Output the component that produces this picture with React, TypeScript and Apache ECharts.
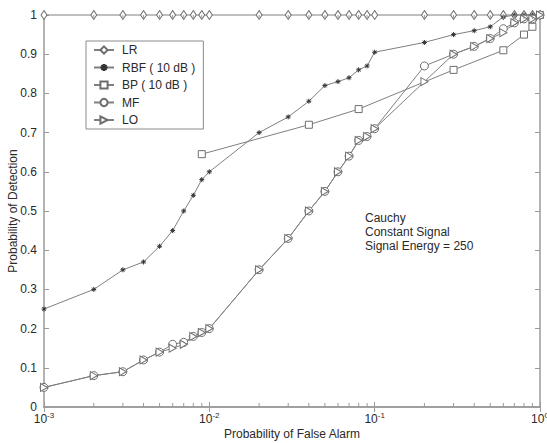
import React, { useEffect, useRef } from "react";
import * as echarts from "echarts";

const falseAlarm = [0.001, 0.002, 0.003, 0.004, 0.005, 0.006, 0.007, 0.008, 0.009, 0.01, 0.02, 0.03, 0.04, 0.05, 0.06, 0.07, 0.08, 0.09, 0.1, 0.2, 0.3, 0.4, 0.5, 0.6, 0.7, 0.8, 0.9, 1];
const lrValues = [1, 1, 1, 1, 1, 1, 1, 1, 1, 1, 1, 1, 1, 1, 1, 1, 1, 1, 1, 1, 1, 1, 1, 1, 1, 1, 1, 1];
const rbfValues = [0.25, 0.3, 0.35, 0.37, 0.41, 0.45, 0.5, 0.54, 0.58, 0.6, 0.7, 0.74, 0.78, 0.82, 0.83, 0.84, 0.86, 0.87, 0.905, 0.93, 0.95, 0.96, 0.97, 0.995, 1, 1, 1, 1];
const bpFalseAlarm = [0.009, 0.04, 0.08, 0.3, 0.6, 0.8, 0.9, 1];
const bpValues = [0.645, 0.72, 0.76, 0.86, 0.91, 0.95, 0.97, 1];
const mfValues = [0.05, 0.08, 0.09, 0.12, 0.14, 0.16, 0.165, 0.18, 0.19, 0.2, 0.35, 0.43, 0.5, 0.55, 0.6, 0.64, 0.68, 0.69, 0.71, 0.87, 0.9, 0.92, 0.94, 0.965, 0.98, 0.99, 0.99, 1];
const loValues = [0.05, 0.08, 0.09, 0.12, 0.14, 0.15, 0.16, 0.18, 0.19, 0.2, 0.35, 0.43, 0.5, 0.55, 0.6, 0.64, 0.68, 0.69, 0.71, 0.83, 0.9, 0.92, 0.94, 0.955, 0.98, 0.99, 0.99, 1];
const minorTickValues = [0.002, 0.003, 0.004, 0.005, 0.006, 0.007, 0.008, 0.009, 0.02, 0.03, 0.04, 0.05, 0.06, 0.07, 0.08, 0.09, 0.2, 0.3, 0.4, 0.5, 0.6, 0.7, 0.8, 0.9];
const legendNames = ["LR", "RBF ( 10 dB )", "BP ( 10 dB )", "MF", "LO"];
const annotation = ["Cauchy", "Constant Signal", "Signal Energy = 250"];

const FONT = "'Liberation Sans', Arial, Helvetica, sans-serif";
const AXIS = "#9a9a9a";
const LINE = "#808080";
const MARK = "#6e6e6e";
const TEXT = "#2a2a2a";

const zip = (xs: number[], ys: number[]) => xs.map((x, i) => [x, ys[i]]);

export default function App() {
  const ref = useRef<HTMLDivElement>(null);
  useEffect(() => {
    if (!ref.current) return;
    const chart = echarts.init(ref.current, null, { renderer: "svg" });
    const hollow = { color: "#fff", borderColor: MARK, borderWidth: 1 };
    const baseLine = { type: "line", clip: false, lineStyle: { color: LINE, width: 1 } };
    const xLabel = {
      margin: 4,
      formatter: (v: number) => `{s|}{b|10}{e|${Math.round(Math.log10(v))}}`,
      rich: {
        b: { fontSize: 12, color: TEXT, fontFamily: FONT, lineHeight: 14, verticalAlign: "bottom", padding: [5, 0, 0, 0] },
        e: { fontSize: 8, color: TEXT, fontFamily: FONT, lineHeight: 10, verticalAlign: "top" },
        s: { fontSize: 8, lineHeight: 10 },
      },
    };
    const axisCommon = {
      axisLine: { show: true, lineStyle: { color: AXIS, width: 1.5 } },
      axisTick: { show: true, inside: true, length: 5, lineStyle: { color: AXIS, width: 1 } },
      splitLine: { show: false },
    };
    const option: any = {
      animation: false,
      backgroundColor: "#fff",
      textStyle: { fontFamily: FONT },
      grid: { left: 44, right: 7, top: 15, bottom: 36, containLabel: false, outerBoundsMode: "none" },
      xAxis: [
        {
          type: "log", logBase: 10, min: 0.001, max: 1, position: "bottom",
          ...axisCommon,
          axisLabel: xLabel,
          name: "Probability of False Alarm", nameLocation: "middle", nameGap: 21, nameMoveOverlap: false,
          nameTextStyle: { fontSize: 12, color: TEXT, fontFamily: FONT },
        },
        {
          type: "log", logBase: 10, min: 0.001, max: 1, position: "top",
          ...axisCommon, axisLabel: { show: false },
        },
      ],
      yAxis: [
        {
          type: "value", min: 0, max: 1, interval: 0.1, position: "left",
          ...axisCommon,
          axisLabel: {
            margin: 7, fontSize: 12, color: TEXT, fontFamily: FONT,
            formatter: (v: number) => String(Math.round(v * 10) / 10),
          },
          name: "Probability of Detection", nameLocation: "middle", nameGap: 25, nameMoveOverlap: false,
          nameTextStyle: { fontSize: 12, color: TEXT, fontFamily: FONT },
        },
        {
          type: "value", min: 0, max: 1, interval: 0.1, position: "right",
          ...axisCommon, axisLabel: { show: false },
        },
      ],
      legend: {
        data: legendNames,
        orient: "vertical", left: 86, top: 41,
        itemWidth: 20, itemHeight: 9, itemGap: 5.5,
        padding: [3, 8, 3, 7],
        borderColor: "#8a8a8a", borderWidth: 1, backgroundColor: "#fff",
        textStyle: { fontSize: 12, color: TEXT, fontFamily: FONT, padding: [0, 0, 0, 3] },
      },
      graphic: [
        {
          type: "text", left: 365, top: 211,
          style: { text: annotation.join("\n"), fontSize: 12, lineHeight: 14, fontFamily: FONT, fill: TEXT },
        },
      ],
      series: [
        {
          ...baseLine, name: "LR", data: zip(falseAlarm, lrValues),
          symbol: "diamond", symbolSize: [6, 9], itemStyle: hollow,
        },
        {
          ...baseLine, name: "RBF ( 10 dB )", data: zip(falseAlarm, rbfValues),
          symbol: "path://M5,0L5,10M0,5L10,5M1.5,1.5L8.5,8.5M1.5,8.5L8.5,1.5", symbolSize: 5,
          itemStyle: { color: "rgba(0,0,0,0)", borderColor: "#333", borderWidth: 1 },
        },
        {
          ...baseLine, name: "BP ( 10 dB )", data: zip(bpFalseAlarm, bpValues),
          symbol: "rect", symbolSize: 7, itemStyle: hollow,
        },
        {
          ...baseLine, name: "MF", data: zip(falseAlarm, mfValues),
          symbol: "circle", symbolSize: 8, itemStyle: hollow,
        },
        {
          ...baseLine, name: "LO", data: zip(falseAlarm, loValues),
          symbol: "path://M0,0L9,5L0,10Z", symbolSize: [7, 8], itemStyle: hollow,
        },
        {
          type: "custom", name: "minorTicks", silent: true, clip: false, z: 5,
          data: minorTickValues.map((v) => [v, 0]),
          encode: { x: 0, y: 1 },
          renderItem: (_p: any, api: any) => {
            const v = api.value(0);
            const b = api.coord([v, 0]);
            const t = api.coord([v, 1]);
            const st = { stroke: AXIS, lineWidth: 1 };
            return {
              type: "group",
              children: [
                { type: "line", shape: { x1: b[0], y1: b[1], x2: b[0], y2: b[1] - 4 }, style: st },
                { type: "line", shape: { x1: t[0], y1: t[1], x2: t[0], y2: t[1] + 4 }, style: st },
              ],
            };
          },
        },
      ],
    };
    chart.setOption(option);
    return () => chart.dispose();
  }, []);
  return <div ref={ref} style={{ position: "fixed", left: 0, top: 0, width: 547, height: 443 }} />;
}
